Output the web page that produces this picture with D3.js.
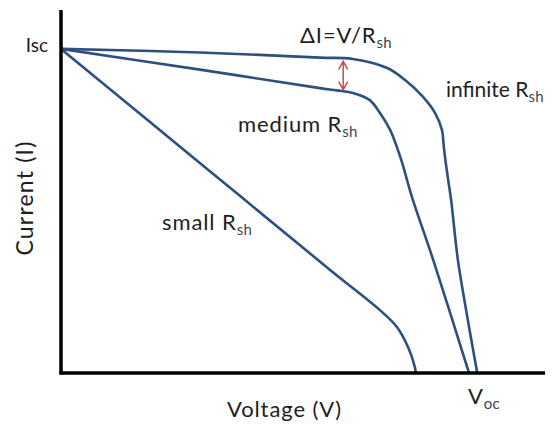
<!DOCTYPE html>
<html>
<head>
<meta charset="utf-8">
<script src="https://cdn.jsdelivr.net/npm/d3@7"></script>
<style>
  body { margin: 0; background: #fff; }
  text { font-family: Lato, "Open Sans", sans-serif; fill: #1e1e1e; }
</style>
</head>
<body>
<script>
// I-V curves for three shunt resistances (normalised: I/Isc, V/Vmax)
var infiniteV = [0, 0.287, 0.535, 0.603, 0.674, 0.711, 0.748, 0.773, 0.787, 0.791, 0.795, 0.800, 0.806, 0.820, 0.837, 0.860];
var infiniteI = [1.0, 0.989, 0.973, 0.969, 0.941, 0.904, 0.852, 0.802, 0.750, 0.697, 0.648, 0.595, 0.534, 0.349, 0.194, 0];

var mediumV = [0, 0.287, 0.535, 0.570, 0.603, 0.638, 0.659, 0.680, 0.694, 0.705, 0.715, 0.727, 0.769, 0.843];
var mediumI = [1.0, 0.936, 0.879, 0.872, 0.864, 0.842, 0.802, 0.750, 0.697, 0.648, 0.595, 0.534, 0.349, 0];

var smallV = [0, 0.30, 0.556, 0.659, 0.694, 0.717, 0.731, 0.733];
var smallI = [1.0, 0.632, 0.318, 0.194, 0.142, 0.080, 0.019, 0];

var width = 555,
    height = 427;

// Set Axes Scalers
var xScale = d3.scaleLinear().domain([0, 1]).range([61, 545]);
var yScale = d3.scaleLinear().domain([0, 1.12]).range([373, 10]);

var lineColor = "#2f4f7f";

var svg = d3.select("body").append("svg")
    .attr("width", width)
    .attr("height", height);

function toPoints(vs, is) {
    return vs.map(function(v, k) { return {v: v, i: is[k]}; });
}

var line = d3.line()
    .x(function(d) { return xScale(d.v); })
    .y(function(d) { return yScale(d.i); })
    .curve(d3.curveCatmullRom.alpha(0.5));

var curves = [toPoints(infiniteV, infiniteI), toPoints(mediumV, mediumI), toPoints(smallV, smallI)];

svg.selectAll(".iv")
    .data(curves)
    .enter().append("path")
    .attr("class", "iv")
    .attr("d", line)
    .attr("fill", "none")
    .attr("stroke", lineColor)
    .attr("stroke-width", 2.6)
    .attr("stroke-linejoin", "round");

// Axes (plain thick lines, no ticks)
svg.append("line")
    .attr("x1", xScale(0)).attr("x2", xScale(0))
    .attr("y1", yScale(1.12)).attr("y2", yScale(0) + 1.5)
    .attr("stroke", "#000").attr("stroke-width", 3.5);
svg.append("line")
    .attr("x1", xScale(0) - 1.5).attr("x2", xScale(1))
    .attr("y1", yScale(0)).attr("y2", yScale(0))
    .attr("stroke", "#000").attr("stroke-width", 3.5);

// Delta I arrow between infinite and medium curves
var arrowV = 0.583;
var yTop = yScale(0.971) + 3, yBot = yScale(0.868) - 2;
var ax = xScale(arrowV);
var red = "#c0504d";
svg.append("path")
    .attr("d", "M" + ax + "," + yTop + "V" + yBot
        + "M" + (ax - 4.5) + "," + (yTop + 8) + "L" + ax + "," + yTop + "L" + (ax + 4.5) + "," + (yTop + 8)
        + "M" + (ax - 4.5) + "," + (yBot - 8) + "L" + ax + "," + yBot + "L" + (ax + 4.5) + "," + (yBot - 8))
    .attr("fill", "none")
    .attr("stroke", red)
    .attr("stroke-width", 1.5);

// Labels with subscript
function label(x, y, main, sub, anchor, size, spacing) {
    var t = svg.append("text")
        .attr("x", x).attr("y", y)
        .attr("font-size", size || 22)
        .attr("letter-spacing", spacing === undefined ? 0.9 : spacing)
        .attr("text-anchor", anchor || "start");
    t.append("tspan").text(main);
    if (sub) {
        t.append("tspan").text(sub)
            .attr("font-size", 15)
            .attr("letter-spacing", 0.3)
            .attr("dy", 5)
            .style("fill", "#444");
    }
    return t;
}

label(300, 43, "\u0394I=V/R", "sh");
label(446, 97, "infinite R", "sh", "start", 21, 0);
label(238, 132, "medium R", "sh");
label(162, 230, "small R", "sh");
label(48, 52, "Isc", null, "end", 19, 0);
label(468, 404, "V", "oc");
label(227, 417, "Voltage (V)");

svg.append("text")
    .attr("transform", "translate(33,198) rotate(-90)")
    .attr("text-anchor", "middle")
    .attr("font-size", 23)
    .attr("letter-spacing", 1.2)
    .text("Current (I)");
</script>
</body>
</html>
